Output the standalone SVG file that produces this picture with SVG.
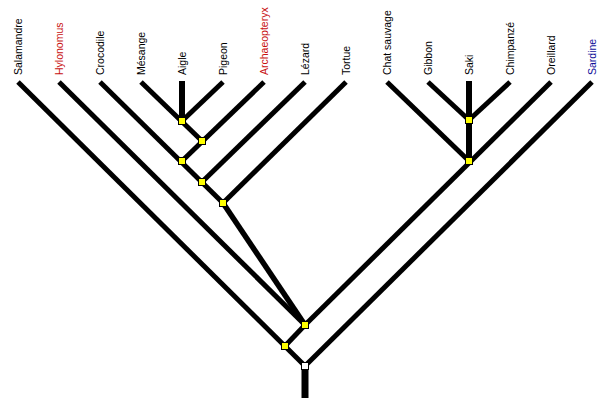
<svg xmlns="http://www.w3.org/2000/svg" width="602" height="398" viewBox="0 0 602 398">
<style>
.e{stroke:#000;stroke-width:5;fill:none;stroke-linecap:butt}
.v{stroke:#000;stroke-width:6;fill:none}
.t{stroke:#000;stroke-width:7;fill:none}
.lab{font-family:"Liberation Sans",Arial,sans-serif;font-size:10.5px;fill:#000}
.red{fill:#c81010}
.blue{fill:#10109a}
.n{fill:#ffff00;stroke:#000;stroke-width:1}
.r{fill:#fff;stroke:#000;stroke-width:1}
</style>
<rect width="602" height="398" fill="#fff"/>
<g id="connectors">
<line class="e" x1="141" y1="82" x2="202" y2="141"/>
<line class="v" x1="182" y1="81" x2="182" y2="121"/>
<line class="e" x1="223" y1="82" x2="182" y2="121"/>
<line class="e" x1="264" y1="82" x2="182" y2="161"/>
<line class="e" x1="100" y1="82" x2="223" y2="203"/>
<line class="e" x1="305" y1="82" x2="202" y2="182"/>
<line class="e" x1="346" y1="82" x2="223" y2="203"/>
<line class="e" x1="223" y1="203" x2="305" y2="325" style="stroke-width:5.5"/>
<line class="e" x1="59" y1="82" x2="305" y2="325"/>
<line class="e" x1="18" y1="82" x2="305" y2="366"/>
<line class="e" x1="305" y1="325" x2="285" y2="346"/>
<line class="e" x1="592" y1="82" x2="305" y2="366"/>
<line class="e" x1="387" y1="82" x2="469" y2="161"/>
<line class="e" x1="428" y1="82" x2="469" y2="120"/>
<line class="v" x1="469" y1="81" x2="469" y2="161"/>
<line class="e" x1="510" y1="82" x2="469" y2="120"/>
<line class="e" x1="551" y1="82" x2="305" y2="325"/>
<line class="t" x1="305" y1="366" x2="305" y2="398"/>
</g>
<g id="leaf-salamandre"><text class="lab" transform="translate(22,75) rotate(-90)">Salamandre</text></g>
<g id="leaf-hylonomus"><text class="lab red" transform="translate(63,75) rotate(-90)">Hylonomus</text></g>
<g id="leaf-crocodile"><text class="lab" transform="translate(104,75) rotate(-90)">Crocodile</text></g>
<g id="leaf-mesange"><text class="lab" transform="translate(145,75) rotate(-90)">Mésange</text></g>
<g id="leaf-aigle"><text class="lab" transform="translate(186,75) rotate(-90)">Aigle</text></g>
<g id="leaf-pigeon"><text class="lab" transform="translate(227,75) rotate(-90)">Pigeon</text></g>
<g id="leaf-archaeopteryx"><text class="lab red" transform="translate(268,75) rotate(-90)">Archaeopteryx</text></g>
<g id="leaf-lezard"><text class="lab" transform="translate(309,75) rotate(-90)">Lézard</text></g>
<g id="leaf-tortue"><text class="lab" transform="translate(350,75) rotate(-90)">Tortue</text></g>
<g id="leaf-chat"><text class="lab" transform="translate(391,75) rotate(-90)">Chat sauvage</text></g>
<g id="leaf-gibbon"><text class="lab" transform="translate(432,75) rotate(-90)">Gibbon</text></g>
<g id="leaf-saki"><text class="lab" transform="translate(473,75) rotate(-90)">Saki</text></g>
<g id="leaf-chimpanze"><text class="lab" transform="translate(514,75) rotate(-90)">Chimpanzé</text></g>
<g id="leaf-oreillard"><text class="lab" transform="translate(555,75) rotate(-90)">Oreillard</text></g>
<g id="leaf-sardine"><text class="lab blue" transform="translate(596,75) rotate(-90)">Sardine</text></g>
<g id="n1"><rect class="n" x="178.5" y="117.5" width="7" height="7"/></g>
<g id="n2"><rect class="n" x="198.5" y="137.5" width="7" height="7"/></g>
<g id="n3"><rect class="n" x="178.5" y="157.5" width="7" height="7"/></g>
<g id="n4"><rect class="n" x="198.5" y="178.5" width="7" height="7"/></g>
<g id="n5"><rect class="n" x="219.5" y="199.5" width="7" height="7"/></g>
<g id="n6"><rect class="n" x="301.5" y="321.5" width="7" height="7"/></g>
<g id="n7"><rect class="n" x="281.5" y="342.5" width="7" height="7"/></g>
<g id="root"><rect class="r" x="301.5" y="362.5" width="7" height="7"/></g>
<g id="m1"><rect class="n" x="465.5" y="116.5" width="7" height="7"/></g>
<g id="m2"><rect class="n" x="465.5" y="157.5" width="7" height="7"/></g>
</svg>
